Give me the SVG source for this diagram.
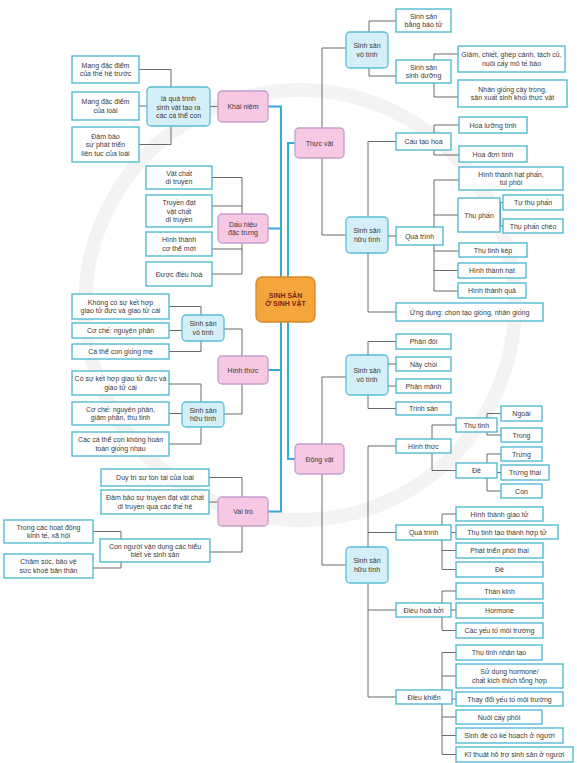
<svg xmlns="http://www.w3.org/2000/svg" width="577" height="763" viewBox="0 0 577 763">
<style>
.lf{fill:#fff;stroke:#45b6cf;stroke-width:1.3}
.md{fill:#d5eff8;stroke:#58bdd8;stroke-width:1.3}
.pk{fill:#f6c8e3;stroke:#c39dd0;stroke-width:1.3}
.ct{fill:#f4a53c;stroke:#d8892a;stroke-width:1.3}
.c{fill:none;stroke:#6b6b6b;stroke-width:1}
.b{fill:none;stroke:#35a9dc;stroke-width:2}
text{font-family:"Liberation Sans","DejaVu Sans",sans-serif;font-size:7px;fill:#3a3a3a;text-anchor:middle}
.tc{font-weight:bold;fill:#7a2410;font-size:7px}
</style>
<rect width="577" height="763" fill="#fff"/>
<circle cx="300" cy="305" r="215" fill="none" stroke="#f3f3f3" stroke-width="14"/>
<g id="connectors">
<path class="b" d="M268,106.5H281V511.5H268M268,228.5H281M268,370H281"/>
<path class="b" d="M295,143H288V459H295"/>
<path class="c" d="M139,69.5H171V144.5H139M139,106H147M210,106.5H218"/>
<path class="c" d="M212,177.5H242V274H212M212,206H242M212,249H242"/>
<path class="c" d="M169,306.5H201V351.5H169M169,330.5H182M224,329H242V414H224"/>
<path class="c" d="M169,384H201V444H169M169,413.5H182"/>
<path class="c" d="M209,477.5H242V552H210M209,502H218"/>
<path class="c" d="M93,531.5H121V568H93"/>
<path class="c" d="M322,128V48H346M322,158V235H346"/>
<path class="c" d="M396,21H369V76H396"/>
<path class="c" d="M458,54H434V97H458"/>
<path class="c" d="M396,141.5H368V312H396M388,236H396"/>
<path class="c" d="M459,125H434V155H459"/>
<path class="c" d="M459,180H434V291H458M434,215H458M434,251H459M434,270.5H458"/>
<path class="c" d="M500.5,202.5H503M500.5,226H503M500.5,202.5V226"/>
<path class="c" d="M322,444V377H346M322,474V565H346"/>
<path class="c" d="M396,341.5H368V408.5H396M388,364H396M388,386H396"/>
<path class="c" d="M396,446H368V697H396M368,532.5H396M368,610H396"/>
<path class="c" d="M456,425H432V470.5H456"/>
<path class="c" d="M501,413.5H487V435H501"/>
<path class="c" d="M501,454H487V491H501M497,472.5H501"/>
<path class="c" d="M456,514H442V569.5H456M451,532.5H456M442,550.5H456"/>
<path class="c" d="M456,591H442V630.5H456M451,610H456"/>
<path class="c" d="M456,652.5H442V754.5H456M442,676H456M452,699H456M442,717H456M442,735.5H456"/>
</g>
<g id="center"><rect class="ct" x="256" y="277" width="59" height="45" rx="6"/><text class="tc" x="285.5" y="297.75">SINH SẢN</text><text class="tc" x="285.5" y="306.25">Ở SINH VẬT</text></g>
<g id="n1"><rect class="pk" x="218" y="91" width="50" height="31" rx="4"/><text x="243" y="109">Khái niệm</text></g>
<g id="n2"><rect class="md" x="147" y="87" width="63" height="39" rx="4"/><text x="178.5" y="101">là quá trình</text><text x="178.5" y="109.5">sinh vật tạo ra</text><text x="178.5" y="118">các cá thể con</text></g>
<g id="n3"><rect class="lf" x="72" y="56" width="67" height="27"/><text x="105.5" y="67.75">Mang đặc điểm</text><text x="105.5" y="76.25">của thế hệ trước</text></g>
<g id="n4"><rect class="lf" x="72" y="92" width="67" height="28"/><text x="105.5" y="104.25">Mang đặc điểm</text><text x="105.5" y="112.75">của loài</text></g>
<g id="n5"><rect class="lf" x="72" y="127" width="67" height="35"/><text x="105.5" y="138.5">Đảm bảo</text><text x="105.5" y="147">sự phát triển</text><text x="105.5" y="155.5">liên tục của loài</text></g>
<g id="n6"><rect class="pk" x="218" y="214" width="50" height="29" rx="4"/><text x="243" y="226.75">Dấu hiệu</text><text x="243" y="235.25">đặc trưng</text></g>
<g id="n7"><rect class="lf" x="146" y="166" width="66" height="23"/><text x="179" y="175.75">Vật chất</text><text x="179" y="184.25">di truyền</text></g>
<g id="n8"><rect class="lf" x="146" y="195" width="66" height="32"/><text x="179" y="205">Truyền đạt</text><text x="179" y="213.5">vật chất</text><text x="179" y="222">di truyền</text></g>
<g id="n9"><rect class="lf" x="146" y="232" width="66" height="24"/><text x="179" y="242.25">Hình thành</text><text x="179" y="250.75">cơ thể mới</text></g>
<g id="n10"><rect class="lf" x="146" y="262" width="66" height="24"/><text x="179" y="276.5">Được điều hoà</text></g>
<g id="n11"><rect class="pk" x="218" y="356" width="50" height="28" rx="4"/><text x="243" y="372.5">Hình thức</text></g>
<g id="n12"><rect class="md" x="182" y="315" width="42" height="26" rx="4"/><text x="203" y="326.25">Sinh sản</text><text x="203" y="334.75">vô tính</text></g>
<g id="n13"><rect class="lf" x="72" y="294" width="97" height="25"/><text x="120.5" y="304.75">Không có sự kết hợp</text><text x="120.5" y="313.25">giao tử đực và giao tử cái</text></g>
<g id="n14"><rect class="lf" x="72" y="323" width="97" height="15"/><text x="120.5" y="333">Cơ chế: nguyên phân</text></g>
<g id="n15"><rect class="lf" x="72" y="344" width="97" height="15"/><text x="120.5" y="354">Cá thể con giống mẹ</text></g>
<g id="n16"><rect class="md" x="182" y="402" width="42" height="25" rx="4"/><text x="203" y="412.75">Sinh sản</text><text x="203" y="421.25">hữu tính</text></g>
<g id="n17"><rect class="lf" x="72" y="371" width="97" height="24"/><text x="120.5" y="381.25">Có sự kết hợp giao tử đực và</text><text x="120.5" y="389.75">giao tử cái</text></g>
<g id="n18"><rect class="lf" x="72" y="402" width="97" height="23"/><text x="120.5" y="411.75">Cơ chế: nguyên phân,</text><text x="120.5" y="420.25">giảm phân, thụ tinh</text></g>
<g id="n19"><rect class="lf" x="72" y="432" width="97" height="24"/><text x="120.5" y="442.25">Các cá thể con không hoàn</text><text x="120.5" y="450.75">toàn giống nhau</text></g>
<g id="n20"><rect class="pk" x="218" y="497" width="50" height="29" rx="4"/><text x="243" y="514">Vai trò</text></g>
<g id="n21"><rect class="lf" x="101" y="469" width="108" height="17"/><text x="155" y="480">Duy trì sự tồn tại của loài</text></g>
<g id="n22"><rect class="lf" x="101" y="490" width="108" height="24"/><text x="155" y="500.25">Đảm bảo sự truyền đạt vật chất</text><text x="155" y="508.75">di truyền qua các thế hệ</text></g>
<g id="n23"><rect class="lf" x="100" y="539" width="110" height="23"/><text x="155" y="548.75">Con người vận dụng các hiểu</text><text x="155" y="557.25">biết về sinh sản</text></g>
<g id="n24"><rect class="lf" x="4" y="520" width="89" height="23"/><text x="48.5" y="529.75">Trong các hoạt động</text><text x="48.5" y="538.25">kinh tế, xã hội</text></g>
<g id="n25"><rect class="lf" x="4" y="554" width="89" height="24"/><text x="48.5" y="564.25">Chăm sóc, bảo vệ</text><text x="48.5" y="572.75">sức khoẻ bản thân</text></g>
<g id="r1"><rect class="pk" x="295" y="128" width="49" height="30" rx="4"/><text x="319.5" y="145.5">Thực vật</text></g>
<g id="r2"><rect class="md" x="346" y="32" width="42" height="36" rx="4"/><text x="367" y="48.25">Sinh sản</text><text x="367" y="56.75">vô tính</text></g>
<g id="r3"><rect class="lf" x="396" y="9" width="55" height="23"/><text x="423.5" y="18.75">Sinh sản</text><text x="423.5" y="27.25">bằng bào tử</text></g>
<g id="r4"><rect class="lf" x="396" y="60" width="55" height="23"/><text x="423.5" y="69.75">Sinh sản</text><text x="423.5" y="78.25">sinh dưỡng</text></g>
<g id="r5"><rect class="lf" x="458" y="46" width="107" height="26"/><text x="511.5" y="57.25">Giâm, chiết, ghép cành, tách củ,</text><text x="511.5" y="65.75">nuôi cấy mô tế bào</text></g>
<g id="r6"><rect class="lf" x="458" y="80" width="109" height="27"/><text x="512.5" y="91.75">Nhân giống cây trồng,</text><text x="512.5" y="100.25">sản xuất sinh khối thực vật</text></g>
<g id="r7"><rect class="md" x="346" y="217" width="42" height="36" rx="4"/><text x="367" y="233.25">Sinh sản</text><text x="367" y="241.75">hữu tính</text></g>
<g id="r8"><rect class="lf" x="396" y="133" width="55" height="17"/><text x="423.5" y="144">Cấu tạo hoa</text></g>
<g id="r9"><rect class="lf" x="459" y="117" width="68" height="16"/><text x="493" y="127.5">Hoa lưỡng tính</text></g>
<g id="r10"><rect class="lf" x="459" y="146" width="68" height="16"/><text x="493" y="156.5">Hoa đơn tính</text></g>
<g id="r11"><rect class="lf" x="396" y="227" width="47" height="18"/><text x="419.5" y="238.5">Quá trình</text></g>
<g id="r12"><rect class="lf" x="459" y="167" width="104" height="23"/><text x="511" y="176.75">Hình thành hạt phấn,</text><text x="511" y="185.25">túi phôi</text></g>
<g id="r13"><rect class="lf" x="458" y="198" width="42" height="34"/><text x="479" y="217.5">Thụ phấn</text></g>
<g id="r14"><rect class="lf" x="503" y="195" width="60" height="15"/><text x="533" y="205">Tự thụ phấn</text></g>
<g id="r15"><rect class="lf" x="503" y="219" width="60" height="14"/><text x="533" y="228.5">Thụ phấn chéo</text></g>
<g id="r16"><rect class="lf" x="459" y="243" width="68" height="14"/><text x="493" y="252.5">Thụ tinh kép</text></g>
<g id="r17"><rect class="lf" x="458" y="263" width="68" height="15"/><text x="492" y="273">Hình thành hạt</text></g>
<g id="r18"><rect class="lf" x="458" y="283" width="68" height="15"/><text x="492" y="293">Hình thành quả</text></g>
<g id="r19"><rect class="lf" x="396" y="303" width="147" height="18"/><text x="469.5" y="314.5">Ứng dụng: chọn tạo giống, nhân giống</text></g>
<g id="r20"><rect class="pk" x="295" y="444" width="49" height="30" rx="4"/><text x="319.5" y="461.5">Động vật</text></g>
<g id="r21"><rect class="md" x="346" y="355" width="42" height="40" rx="4"/><text x="367" y="373.25">Sinh sản</text><text x="367" y="381.75">vô tính</text></g>
<g id="r22"><rect class="lf" x="396" y="334" width="55" height="15"/><text x="423.5" y="344">Phân đôi</text></g>
<g id="r23"><rect class="lf" x="396" y="357" width="55" height="14"/><text x="423.5" y="366.5">Nảy chồi</text></g>
<g id="r24"><rect class="lf" x="396" y="379" width="55" height="14"/><text x="423.5" y="388.5">Phân mảnh</text></g>
<g id="r25"><rect class="lf" x="396" y="402" width="55" height="13"/><text x="423.5" y="411">Trinh sản</text></g>
<g id="r26"><rect class="md" x="346" y="547" width="42" height="36" rx="4"/><text x="367" y="563.25">Sinh sản</text><text x="367" y="571.75">hữu tính</text></g>
<g id="r27"><rect class="lf" x="396" y="439" width="55" height="14"/><text x="423.5" y="448.5">Hình thức</text></g>
<g id="r28"><rect class="lf" x="456" y="418" width="41" height="14"/><text x="476.5" y="427.5">Thụ tinh</text></g>
<g id="r29"><rect class="lf" x="501" y="406" width="41" height="15"/><text x="521.5" y="416">Ngoài</text></g>
<g id="r30"><rect class="lf" x="501" y="428" width="41" height="14"/><text x="521.5" y="437.5">Trong</text></g>
<g id="r31"><rect class="lf" x="456" y="463" width="41" height="15"/><text x="476.5" y="473">Đẻ</text></g>
<g id="r32"><rect class="lf" x="501" y="447" width="41" height="14"/><text x="521.5" y="456.5">Trứng</text></g>
<g id="r33"><rect class="lf" x="501" y="465" width="48" height="15"/><text x="525" y="475">Trứng thai</text></g>
<g id="r34"><rect class="lf" x="501" y="484" width="41" height="14"/><text x="521.5" y="493.5">Con</text></g>
<g id="r35"><rect class="lf" x="396" y="525" width="55" height="15"/><text x="423.5" y="535">Quá trình</text></g>
<g id="r36"><rect class="lf" x="456" y="507" width="87" height="14"/><text x="499.5" y="516.5">Hình thành giao tử</text></g>
<g id="r37"><rect class="lf" x="456" y="525" width="102" height="14"/><text x="507" y="534.5">Thụ tinh tạo thành hợp tử</text></g>
<g id="r38"><rect class="lf" x="456" y="543" width="87" height="15"/><text x="499.5" y="553">Phát triển phôi thai</text></g>
<g id="r39"><rect class="lf" x="456" y="562" width="87" height="15"/><text x="499.5" y="572">Đẻ</text></g>
<g id="r40"><rect class="lf" x="396" y="603" width="55" height="14"/><text x="423.5" y="612.5">Điều hoà bởi</text></g>
<g id="r41"><rect class="lf" x="456" y="583" width="87" height="16"/><text x="499.5" y="593.5">Thần kinh</text></g>
<g id="r42"><rect class="lf" x="456" y="603" width="87" height="15"/><text x="499.5" y="613">Hormone</text></g>
<g id="r43"><rect class="lf" x="456" y="623" width="87" height="15"/><text x="499.5" y="633">Các yếu tố môi trường</text></g>
<g id="r44"><rect class="lf" x="396" y="690" width="56" height="14"/><text x="424" y="699.5">Điều khiển</text></g>
<g id="r45"><rect class="lf" x="456" y="645" width="86" height="15"/><text x="499" y="655">Thụ tinh nhân tạo</text></g>
<g id="r46"><rect class="lf" x="456" y="664" width="107" height="24"/><text x="509.5" y="674.25">Sử dụng hormone/</text><text x="509.5" y="682.75">chất kích thích tổng hợp</text></g>
<g id="r47"><rect class="lf" x="456" y="692" width="107" height="14"/><text x="509.5" y="701.5">Thay đổi yếu tố môi trường</text></g>
<g id="r48"><rect class="lf" x="456" y="710" width="86" height="14"/><text x="499" y="719.5">Nuôi cấy phôi</text></g>
<g id="r49"><rect class="lf" x="456" y="728" width="107" height="15"/><text x="509.5" y="738">Sinh đẻ có kế hoạch ở người</text></g>
<g id="r50"><rect class="lf" x="456" y="747" width="117" height="15"/><text x="514.5" y="757">Kĩ thuật hỗ trợ sinh sản ở người</text></g>
</svg>
